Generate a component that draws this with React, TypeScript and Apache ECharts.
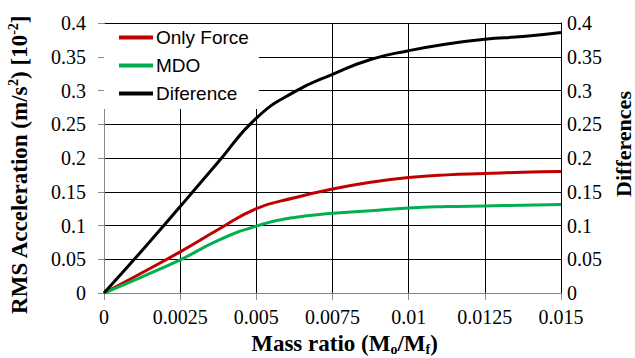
import React, { useEffect, useRef } from "react";
import * as echarts from "echarts";

const massRatio = [0, 0.00125, 0.0025, 0.00375, 0.005, 0.00625, 0.0075, 0.00875, 0.01, 0.01125, 0.0125, 0.01375, 0.015];
const onlyForce = [0, 0.03, 0.061, 0.094, 0.125, 0.141, 0.154, 0.164, 0.171, 0.175, 0.177, 0.179, 0.18];
const mdo = [0, 0.024, 0.049, 0.078, 0.099, 0.112, 0.118, 0.122, 0.126, 0.128, 0.129, 0.13, 0.131];
const difference = [0, 0.063, 0.128, 0.194, 0.259, 0.298, 0.324, 0.346, 0.359, 0.369, 0.376, 0.38, 0.386];

const seriesNames = ["Only Force", "MDO", "Diference"];

const serif = "Liberation Serif";

export default function App() {
  const ref = useRef<HTMLDivElement>(null);
  useEffect(() => {
    if (!ref.current) return;
    const chart = echarts.init(ref.current, undefined, { renderer: "svg" });
    const pair = (ys: number[]) => massRatio.map((x, i) => [x, ys[i]]);
    const fmt = (v: number) => String(parseFloat(v.toFixed(5)));
    const yLabel = {
      color: "#000",
      fontFamily: serif,
      fontSize: 20,
      formatter: fmt,
    };
    const nameRich = (va: string, pad: number[]) => ({
      b: { fontFamily: serif, fontWeight: "bold", fontSize: 23, color: "#000", lineHeight: 26, verticalAlign: va },
      s: { fontFamily: serif, fontWeight: "bold", fontSize: 14, color: "#000", lineHeight: 26, verticalAlign: va, padding: pad },
    });
    chart.setOption({
      animation: false,
      backgroundColor: "#fff",
      textStyle: { fontFamily: serif },
      grid: { left: 104, right: 74, top: 23, bottom: 65, outerBoundsMode: "none", containLabel: false },
      legend: {
        orient: "vertical",
        left: 104,
        top: 24,
        padding: [3, 10, 5, 15],
        backgroundColor: "#fff",
        itemWidth: 34,
        itemHeight: 4,
        itemGap: 7,
        icon: "rect",
        data: seriesNames,
        textStyle: {
          color: "#000",
          fontFamily: "Liberation Sans",
          fontSize: 19,
          lineHeight: 21,
          padding: [0, 0, 0, -2],
        },
      },
      xAxis: {
        type: "value",
        min: 0,
        max: 0.015,
        interval: 0.0025,
        axisLine: { show: true, lineStyle: { color: "#898989", width: 1 } },
        axisTick: { show: true, length: 7, lineStyle: { color: "#898989" } },
        axisLabel: { color: "#000", fontFamily: serif, fontSize: 20, margin: 14, formatter: fmt },
        splitLine: { show: true, lineStyle: { color: "#000", width: 1 } },
        name: "{b|Mass ratio (M}{s|o}{b|/M}{s|f}{b|)}",
        nameLocation: "middle",
        nameGap: 35,
        nameTextStyle: {
          padding: [0, 0, 0, 24],
          rich: nameRich("bottom", [0, 0, -2, 0]),
        },
      },
      yAxis: [
        {
          type: "value",
          min: 0,
          max: 0.4,
          interval: 0.05,
          axisLine: { show: true, lineStyle: { color: "#898989", width: 1 } },
          axisTick: { show: true, length: 6, lineStyle: { color: "#898989" } },
          axisLabel: { ...yLabel, margin: 18 },
          splitLine: { show: true, lineStyle: { color: "#000", width: 1 } },
          name: "{b|RMS Acceleration (m/s}{s|2}{b|) [10}{s|-2}{b|]}",
          nameLocation: "middle",
          nameGap: 70,
          nameTextStyle: {
            padding: [0, 14, 0, 0],
            rich: nameRich("top", [-2, 0, 0, 0]),
          },
        },
        {
          type: "value",
          min: 0,
          max: 0.4,
          interval: 0.05,
          position: "right",
          axisLine: { show: true, lineStyle: { color: "#000", width: 1 } },
          axisTick: { show: false },
          axisLabel: { ...yLabel, margin: 6 },
          splitLine: { show: false },
          name: "Differences",
          nameLocation: "middle",
          nameGap: 49,
          nameTextStyle: { fontFamily: serif, fontWeight: "bold", fontSize: 22, color: "#000", padding: [0, 0, 0, 28] },
        },
      ],
      series: [
        {
          name: seriesNames[0],
          type: "line",
          data: pair(onlyForce),
          smooth: 0.5,
          showSymbol: false,
          symbol: "none",
          lineStyle: { color: "#C00000", width: 3 },
          itemStyle: { color: "#C00000" },
        },
        {
          name: seriesNames[1],
          type: "line",
          data: pair(mdo),
          smooth: 0.5,
          showSymbol: false,
          symbol: "none",
          lineStyle: { color: "#00B050", width: 3 },
          itemStyle: { color: "#00B050" },
        },
        {
          name: seriesNames[2],
          type: "line",
          yAxisIndex: 1,
          data: pair(difference),
          smooth: 0.5,
          showSymbol: false,
          symbol: "none",
          lineStyle: { color: "#000", width: 3 },
          itemStyle: { color: "#000" },
        },
      ],
    });
    return () => chart.dispose();
  }, []);
  return <div ref={ref} style={{ width: 635, height: 358, position: "absolute", left: 0, top: 0 }} />;
}
